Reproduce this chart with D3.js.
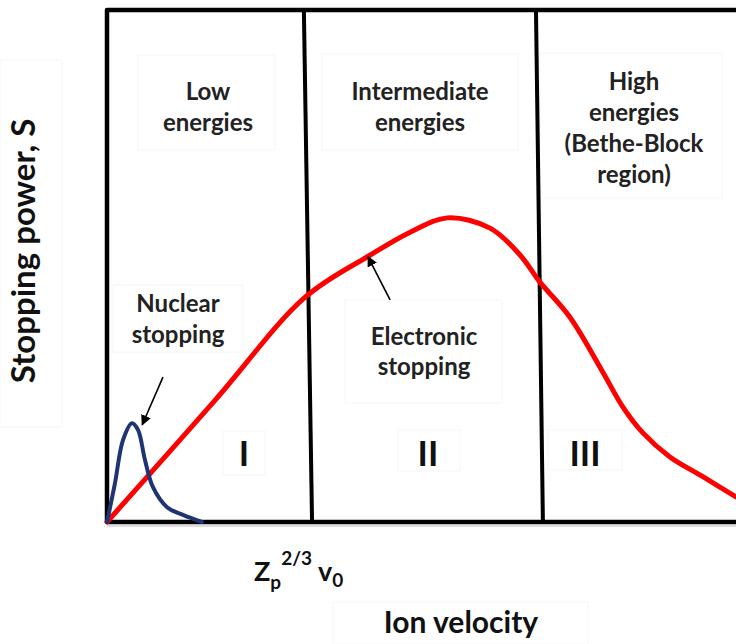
<!DOCTYPE html>
<html>
<head>
<meta charset="utf-8">
<script src="https://cdn.jsdelivr.net/npm/d3@7"></script>
<style>
  html, body { margin: 0; padding: 0; background: #fff; }
  svg { display: block; font-family: Lato, "Open Sans", sans-serif; font-weight: 700; }
</style>
</head>
<body>
<svg id="chart" width="736" height="644"></svg>
<script>
// Ion velocity (arbitrary units, 0-100) and stopping power (arbitrary units, 0-100)
const electronicV = [0, 17.2, 31.5, 41.8, 48.2, 54.1, 60.9, 65.7, 68.8, 73.6, 78.9, 82.0, 85.2, 89.5, 94.8, 100];
const electronicS = [0, 23.8, 43.9, 52.1, 56.6, 59.4, 57.4, 52.1, 46.9, 40.0, 29.1, 22.5, 17.4, 12.7, 8.8, 4.9];

const nuclearV = [0, 1.27, 2.54, 3.97, 4.93, 6.04, 7.31, 9.54, 12.08, 15.1];
const nuclearS = [0, 7.6, 16.0, 19.3, 18.0, 12.1, 6.8, 2.9, 1.4, 0];

// Region boundaries (velocity at top and at bottom of the dividing line)
const boundaryTop = [31.3, 68.2];
const boundaryBottom = [32.6, 69.3];

const regionNames = ["I", "II", "III"];
const regionTitles = [["Low", "energies"], ["Intermediate", "energies"], ["High", "energies", "(Bethe-Block", "region)"]];

const svg = d3.select("#chart");
const x = d3.scaleLinear().domain([0, 100]).range([107, 736]);
const y = d3.scaleLinear().domain([0, 100]).range([522, 10]);

// Faint text-box outlines
const boxes = [
  [138, 55, 137, 95], [322, 54, 196, 96], [540, 53, 182, 145],
  [113, 285, 130, 67], [345, 300, 157, 103],
  [223, 431, 42, 44], [398, 430, 62, 41], [548, 430, 74, 40],
  [0, 60, 62, 367], [333, 602, 255, 42]
];
svg.append("g").selectAll("rect").data(boxes).join("rect")
  .attr("x", d => d[0]).attr("y", d => d[1]).attr("width", d => d[2]).attr("height", d => d[3])
  .attr("fill", "none").attr("stroke", "#f6f6f6").attr("stroke-width", 1);

// Frame: left axis, top border, bottom axis
const frame = svg.append("g").attr("stroke", "#000").attr("stroke-width", 4.5).attr("fill", "none");
frame.append("path").attr("d", `M${x(100) + 2},${y(100)} H${x(0)} V${y(0)} H${x(100) + 2}`)
  .attr("stroke-linejoin", "round");
// Light shadow under bottom axis
svg.append("line").attr("x1", x(0)).attr("x2", x(100)).attr("y1", y(0) + 4).attr("y2", y(0) + 4)
  .attr("stroke", "#bbb").attr("stroke-width", 1);

// Dividing lines between regions
svg.append("g").selectAll("line").data(boundaryTop).join("line")
  .attr("x1", d => x(d)).attr("y1", y(100))
  .attr("x2", (d, i) => x(boundaryBottom[i])).attr("y2", y(0))
  .attr("stroke", "#000").attr("stroke-width", 4);

// Curves
const line = d3.line().x(d => x(d[0])).y(d => y(d[1])).curve(d3.curveCatmullRom.alpha(0.5));
svg.append("path").datum(electronicV.map((v, i) => [v, electronicS[i]]))
  .attr("d", line).attr("fill", "none").attr("stroke", "#ff0000").attr("stroke-width", 5)
  .attr("stroke-linecap", "round");
svg.append("path").datum(nuclearV.map((v, i) => [v, nuclearS[i]]))
  .attr("d", line).attr("fill", "none").attr("stroke", "#1f3473").attr("stroke-width", 4)
  .attr("stroke-linecap", "round");

// Arrows
svg.append("defs").append("marker").attr("id", "head")
  .attr("viewBox", "0 0 10 10").attr("refX", 9).attr("refY", 5)
  .attr("markerWidth", 6.5).attr("markerHeight", 6.5).attr("markerUnits", "strokeWidth")
  .attr("orient", "auto")
  .append("path").attr("d", "M0,0 L10,5 L0,10 Z").attr("fill", "#000");
const arrows = [
  [[8.9, 28.3], [5.6, 19.0]],
  [[45.0, 43.4], [41.5, 51.8]]
];
svg.append("g").selectAll("line").data(arrows).join("line")
  .attr("x1", d => x(d[0][0])).attr("y1", d => y(d[0][1]))
  .attr("x2", d => x(d[1][0])).attr("y2", d => y(d[1][1]))
  .attr("stroke", "#000").attr("stroke-width", 1.6).attr("marker-end", "url(#head)");

// Text helper
function multiline(lines, cx, baseline, gap, size) {
  const t = svg.append("text").attr("text-anchor", "middle").attr("font-size", size).attr("fill", "#222");
  lines.forEach((s, i) => t.append("tspan").attr("x", cx).attr("y", baseline + i * gap).text(s));
  return t;
}

// Region titles
const titleX = [208, 420, 634];
const titleY = [100, 100, 90];
regionTitles.forEach((lines, i) => multiline(lines, titleX[i], titleY[i], 31, 24));

// Roman numerals
const numeralX = [244, 428, 585];
svg.append("g").selectAll("text").data(regionNames).join("text")
  .attr("x", (d, i) => numeralX[i]).attr("y", 466)
  .attr("text-anchor", "middle").attr("font-size", 35).attr("fill", "#111")
  .text(d => d);

// Curve labels
multiline(["Nuclear", "stopping"], 178, 312, 31, 24);
multiline(["Electronic", "stopping"], 424, 345, 30, 24);

// Axis titles
svg.append("text").attr("transform", "translate(35,251) rotate(-90)")
  .attr("text-anchor", "middle").attr("font-size", 33).attr("fill", "#111")
  .text("Stopping power, S");
svg.append("text").attr("x", 461).attr("y", 633).attr("text-anchor", "middle")
  .attr("font-size", 30).attr("fill", "#111").text("Ion velocity");

// Threshold velocity label Zp^(2/3) v0
const z = svg.append("text").attr("x", 254).attr("y", 581).attr("font-size", 27).attr("fill", "#111");
z.append("tspan").text("Z");
z.append("tspan").attr("dy", 8).attr("font-size", 19).text("p");
z.append("tspan").attr("dy", -24).attr("font-size", 19).text("2/3");
z.append("tspan").attr("dy", 16).attr("font-size", 27).text(" v");
z.append("tspan").attr("dy", 6).attr("font-size", 19).text("0");
</script>
</body>
</html>
